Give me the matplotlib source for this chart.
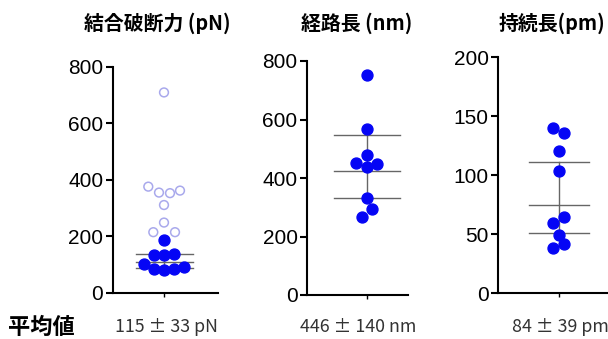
import matplotlib
matplotlib.use('Agg')
import matplotlib.pyplot as plt

plt.rcParams['font.family'] = ['Liberation Sans', 'Noto Sans CJK JP', 'DejaVu Sans']

# --- data ---
titles = ['結合破断力 (pN)', '経路長 (nm)', '持続長(pm)']
summary = ['115 ± 33 pN', '446 ± 140 nm', '84 ± 39 pm']

force_open = [709, 376, 355, 353, 362, 311, 249, 215, 215]
force_filled = [188, 133, 133, 138, 101, 91, 86, 81, 84]
force_stats = [110, 137, 88]          # mean, upper, lower

path_vals = [752, 569, 478, 452, 437, 448, 333, 293, 266]
path_stats = [425, 546, 331]

persist_vals = [140, 136, 121, 104, 65, 60, 49, 42, 38]
persist_stats = [75, 111, 51]

yticks = [[0, 200, 400, 600, 800], [0, 200, 400, 600, 800], [0, 50, 100, 150, 200]]

# --- layout (pixels in a 608x339 figure) ---
W, H = 608, 339
# left, right, y_bottom, y_top, centre (px)
boxes = [(113, 218, 293, 66.7, 164),
         (307.3, 408, 295, 61, 366.7),
         (498.3, 612, 293.3, 57.3, 558.7)]
half_w = [28.5, 33, 30]
jit_open = [0, -15.7, -5, 6, 16, 0, 0, -10.7, 11]
jit_force = [0, -10, 0, 10, -20, 20, -10, 0, 10]
jit_path = [0, 0, 0, -10.7, 0, 10.6, 0, 5.6, -5]
jit_persist = [-5.3, 5.3, 0, 0, 5.3, -5.3, 0, 5.3, -5.3]

blue = '#0505f5'
fig = plt.figure(figsize=(W / 100, H / 100), dpi=100)

panels = [(force_filled, jit_force, force_stats),
          (path_vals, jit_path, path_stats),
          (persist_vals, jit_persist, persist_stats)]

for i, (vals, jit, st) in enumerate(panels):
    l, r, yb, yt, c = boxes[i]
    ax = fig.add_axes([l / W, (H - yb) / H, (r - l) / W, (yb - yt) / H])
    ax.set_xlim(l - c, r - c)
    ax.set_ylim(yticks[i][0], yticks[i][-1])
    for s in ['top', 'right']:
        ax.spines[s].set_visible(False)
    for s in ['left', 'bottom']:
        ax.spines[s].set_linewidth(1.5)
    ax.set_yticks(yticks[i])
    ax.set_xticks([0])
    ax.set_xticklabels([])
    ax.tick_params(axis='y', length=5, width=1.5, labelsize=15, pad=2)
    ax.tick_params(axis='x', length=3, width=1)
    ax.patch.set_alpha(0)

    if i == 0:
        ax.scatter(jit_open, force_open, s=40, facecolors='none',
                   edgecolors='#a9a9ec', linewidths=1.1, clip_on=False, zorder=3)
    ax.scatter(jit, vals, s=62, color=blue, clip_on=False, zorder=3)

    hw = half_w[i]
    for v in st:
        ax.plot([-hw, hw], [v, v], color='#666666', lw=1.0, zorder=2)
    ax.plot([0, 0], [st[2], st[1]], color='#666666', lw=1.0, zorder=2)

# titles
title_x = [157, 357, 552]
for tx, t in zip(title_x, titles):
    fig.text(tx / W, (H - 23) / H, t, ha='center', va='center', fontsize=14.3,
             fontweight='bold', family=['Noto Sans CJK JP', 'DejaVu Sans'])

# bottom summary
fig.text(8 / W, (H - 327) / H, '平均値', ha='left', va='center', fontsize=16,
         fontweight='bold', family=['Noto Sans CJK JP', 'DejaVu Sans'])
sum_x = [(166, 'center'), (358, 'center'), (512, 'left')]
for (sx, ha), t in zip(sum_x, summary):
    fig.text(sx / W, (H - 327) / H, t, ha=ha, va='center', fontsize=12.8,
             color='#333333', family=['Noto Sans CJK JP', 'DejaVu Sans'])

fig.savefig('out.png', dpi=100)
